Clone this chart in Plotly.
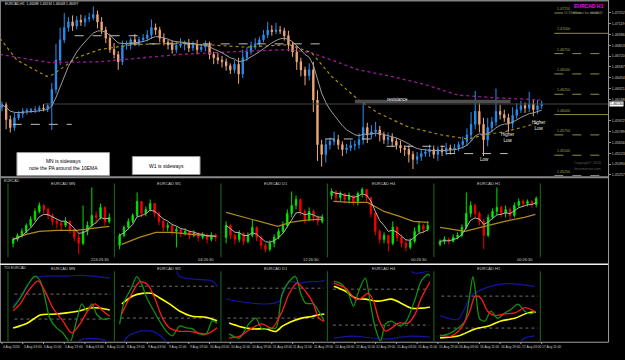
import pandas as pd
import plotly.graph_objects as go

W, H = 625, 360
FONT = "Liberation Sans"

# ---------------- main chart: EURCAD H1 ----------------
main_open0 = 1.4609
main_close = [
    1.4612, 1.4594, 1.4584, 1.4596, 1.4601, 1.4604, 1.4605, 1.4606, 1.4606, 1.4608,
    1.4607, 1.4611, 1.4631, 1.4667, 1.4692, 1.4707, 1.4714, 1.4709, 1.4716, 1.4714,
    1.4718, 1.4719, 1.4723, 1.4714, 1.4704, 1.4694, 1.4680, 1.4674, 1.4665, 1.4685,
    1.4686, 1.4692, 1.4689, 1.4692, 1.4694, 1.4698, 1.4707, 1.4704, 1.4694, 1.4689,
    1.4686, 1.4680, 1.4685, 1.4687, 1.4688, 1.4682, 1.4686, 1.4680, 1.4683, 1.4686,
    1.4674, 1.4670, 1.4667, 1.4665, 1.4660, 1.4655, 1.4662, 1.4650, 1.4670, 1.4677,
    1.4685, 1.4687, 1.4692, 1.4698, 1.4704, 1.4702, 1.4704, 1.4703, 1.4697, 1.4686,
    1.4677, 1.4665, 1.4655, 1.4648, 1.4655, 1.4618, 1.4563, 1.4551, 1.4563, 1.4567,
    1.4569, 1.4563, 1.4557, 1.4559, 1.4562, 1.4563, 1.4569, 1.4584, 1.4575, 1.4579,
    1.4581, 1.4575, 1.4569, 1.4572, 1.4567, 1.4562, 1.4559, 1.4557, 1.4551, 1.4545,
    1.4548, 1.4552, 1.4554, 1.4557, 1.4551, 1.4557, 1.4554, 1.4559, 1.4557, 1.4559,
    1.4563, 1.4567, 1.4575, 1.4588, 1.4604, 1.4588, 1.4569, 1.4584, 1.4591, 1.4604,
    1.4600, 1.4596, 1.4589, 1.4599, 1.4606, 1.4611, 1.4608, 1.4613, 1.4606, 1.4611,
    1.4613,
]
main_up_pips = [
    4, 3, 5, 6, 3, 4, 3, 2, 4, 3,
    5, 3, 8, 20, 15, 18, 6, 8, 5, 7,
    4, 6, 10, 5, 6, 4, 5, 8, 4, 6,
    5, 3, 7, 4, 5, 6, 10, 5, 4, 6,
    3, 5, 4, 7, 3, 5, 4, 6, 3, 5,
    4, 3, 6, 5, 4, 3, 5, 8, 10, 6,
    5, 7, 4, 6, 10, 6, 9, 5, 4, 6,
    3, 7, 5, 4, 8, 10, 12, 6, 8, 5,
    10, 6, 4, 5, 6, 5, 8, 30, 6, 8,
    10, 5, 4, 6, 5, 4, 6, 3, 5, 4,
    6, 5, 4, 6, 5, 4, 5, 6, 4, 5,
    4, 6, 8, 15, 25, 10, 8, 12, 6, 28,
    8, 6, 5, 10, 8, 6, 4, 15, 5, 7,
    4,
]
main_dn_pips = [
    5, 12, 6, 4, 3, 5, 4, 3, 4, 3,
    3, 4, 30, 5, 6, 4, 5, 6, 4, 5,
    6, 4, 3, 8, 5, 6, 4, 5, 10, 4,
    5, 6, 4, 5, 3, 4, 5, 6, 5, 4,
    6, 5, 4, 3, 8, 5, 4, 6, 3, 5,
    6, 8, 5, 7, 6, 5, 4, 12, 5, 4,
    3, 5, 4, 3, 4, 5, 3, 4, 6, 8,
    6, 10, 8, 12, 6, 15, 20, 15, 10, 6,
    5, 6, 8, 5, 4, 6, 5, 6, 10, 5,
    6, 8, 5, 6, 7, 5, 6, 8, 10, 12,
    6, 5, 4, 6, 5, 8, 5, 4, 6, 5,
    4, 5, 6, 8, 6, 10, 20, 8, 6, 5,
    6, 5, 10, 6, 5, 4, 6, 5, 8, 5,
    4,
]
ema_span = 10

olive_idx = [-0.5, 3.6, 10.8, 12.2, 18, 23.5, 31.4, 42.7, 58.8, 69.1, 74.6, 79.4, 85.9,
             90.6, 97.8, 105.8, 112.2, 116.3, 121.1, 125.9, 129.7]
olive_val = [1.4694, 1.4667, 1.4647, 1.4649, 1.4670, 1.4680, 1.4686, 1.4688, 1.4683, 1.4686,
             1.4676, 1.4647, 1.4618, 1.4602, 1.4585, 1.4575, 1.4570, 1.4575, 1.4579, 1.4585, 1.4591]
purple_idx = [-0.5, 11.5, 23.5, 35.5, 42.7, 54.7, 69.1, 74.6, 80.3, 85.9, 93.8, 101.9,
              109.8, 117.7, 129.7]
purple_val = [1.4674, 1.4664, 1.4665, 1.4671, 1.4674, 1.4677, 1.4680, 1.4676, 1.4665, 1.4655,
              1.4647, 1.4637, 1.4624, 1.4621, 1.4618]

dash_start = [2.6, 17.5, 31.0, 78.0, 92.6, 107.0]
dash_end = [16.8, 33.0, 77.0, 89.5, 106.7, 121.8]
dash_price = [1.4588, 1.4697, 1.4687, 1.4570, 1.4561, 1.4552]

resist_price = 1.4616
resist_start = 85
resist_end = 122.5
bid_price = 1.4613
bid_line_start = 10

round_levels = [1.4725, 1.4700, 1.4675, 1.4650, 1.4625, 1.4600, 1.4575, 1.4550, 1.4525]
price_ticks = [1.47385, 1.47252, 1.47119, 1.46986, 1.46853, 1.46720, 1.46587, 1.46454,
               1.46321, 1.46188, 1.45922, 1.45789, 1.45656, 1.45523, 1.45390, 1.45257]

x_labels = ["4 Aug 2016", "5 Aug 03:00", "5 Aug 11:00", "5 Aug 19:00", "8 Aug 03:00",
            "8 Aug 11:00", "8 Aug 19:00", "9 Aug 03:00", "9 Aug 11:00", "9 Aug 19:00",
            "10 Aug 03:00", "10 Aug 11:00", "10 Aug 19:00", "11 Aug 03:00", "11 Aug 11:00",
            "11 Aug 19:00", "12 Aug 03:00", "12 Aug 11:00", "12 Aug 19:00", "15 Aug 03:00",
            "15 Aug 11:00", "15 Aug 19:00", "16 Aug 03:00", "16 Aug 11:00", "16 Aug 19:00",
            "17 Aug 03:00", "17 Aug 11:00"]
x_label_step = 5

# ---------------- mini charts (relative levels) ----------------
mini_names = ["EURCAD MN", "EURCAD W1", "EURCAD D1", "EURCAD H4", "EURCAD H1"]
mini_timers = ["224:26:30", "04:26:30", "12:26:30", "00:26:30", "00:26:30"]

mn_open0 = 18
mn_close = [22, 26, 30, 36, 42, 50, 56, 52, 46, 40, 38, 36, 40, 32, 24, 18, 30, 36, 46, 44, 54, 40, 44]
mn_high = [24, 28, 33, 38, 45, 53, 59, 57, 54, 48, 42, 40, 44, 41, 33, 28, 56, 40, 74, 50, 58, 55, 48]
mn_low = [14, 20, 24, 28, 34, 40, 48, 48, 42, 36, 33, 31, 34, 28, 20, 7, 16, 26, 34, 38, 42, 36, 38]
mn_olive_x = [0, 3, 6, 10, 14.5, 17.5, 20, 22]
mn_olive = [22, 27, 30, 31, 31, 33, 34, 35]

w1_open0 = 16
w1_close = [26, 34, 40, 46, 60, 48, 52, 58, 48, 40, 34, 36, 30, 32, 28, 30, 26, 28, 24, 26, 22, 26, 24]
w1_high = [28, 36, 43, 48, 69, 60, 55, 62, 57, 50, 42, 39, 36, 35, 33, 33, 31, 31, 29, 29, 28, 29, 28]
w1_low = [12, 24, 32, 38, 44, 44, 45, 50, 44, 36, 30, 30, 26, 14, 24, 26, 22, 24, 20, 22, 18, 20, 20]
w1_olive_x = [0.5, 4.5, 8.3, 12, 16.5, 22]
w1_olive = [17, 24, 29, 29, 27, 25]

d1_open0 = 24
d1_close = [36, 26, 22, 28, 20, 26, 34, 24, 16, 12, 18, 24, 30, 36, 48, 56, 62, 50, 42, 50, 44, 40, 44]
d1_high = [40, 37, 28, 31, 29, 29, 42, 35, 26, 18, 21, 27, 33, 40, 52, 70, 66, 63, 52, 54, 52, 46, 47]
d1_low = [18, 22, 17, 19, 16, 18, 24, 20, 12, 9, 10, 14, 22, 28, 34, 44, 52, 46, 38, 40, 40, 36, 38]
d1_olive_x = [0, 4.4, 8.9, 11.8, 14.7, 17.8, 20.7, 22]
d1_olive = [49, 44, 39, 35, 39, 41, 42, 42]

h4_open0 = 66
h4_close = [70, 64, 68, 62, 66, 60, 68, 72, 64, 48, 30, 22, 26, 18, 34, 24, 18, 14, 20, 30, 36, 32, 36]
h4_high = [73, 71, 70, 68, 69, 66, 70, 74, 72, 64, 50, 32, 29, 26, 40, 35, 27, 22, 23, 34, 40, 37, 40]
h4_low = [62, 60, 60, 58, 58, 56, 56, 64, 60, 44, 26, 18, 18, 10, 16, 20, 14, 10, 12, 18, 28, 28, 30]
h4_olive_x = [0.4, 4.4, 8.2, 12, 15.6, 18.7, 22.2]
h4_olive = [60, 59, 59, 50, 45, 40, 39]

h1_open0 = 17
h1_close = [20, 22, 20, 24, 26, 34, 48, 56, 48, 40, 26, 44, 50, 54, 48, 52, 46, 56, 60, 58, 60, 57, 63]
h1_high = [22, 25, 24, 27, 29, 37, 69, 60, 58, 50, 42, 47, 53, 74, 56, 56, 54, 59, 63, 62, 62, 61, 65]
h1_low = [15, 17, 17, 19, 22, 24, 32, 44, 44, 36, 12, 24, 42, 46, 44, 44, 42, 44, 54, 54, 55, 54, 54]
h1_olive_x = [0, 5.7, 10.2, 14.8, 19.3, 21.8]
h1_olive = [34, 30, 35, 40, 44, 47]

# ---------------- TDI panels ----------------
tdi_levels = [68, 32]

mn_grn_x = [0, 1.6, 3.2, 5.0, 6.2, 7.3, 8.4, 10.0, 11.4, 13.0, 14.6, 15.7, 16.9, 18.0, 19.1, 20.5, 22.1]
mn_grn = [48, 62, 80, 94, 87, 62, 33, 19, 12, -1, 32, 54, 44, 54, 39, 32, 33]
mn_red_x = [0, 1.6, 3.4, 5.7, 7.3, 9.1, 11.4, 13.4, 15.3, 17.1, 18.7, 20.5, 22.1]
mn_red = [44, 54, 72, 87, 72, 48, 29, 12, 25, 44, 54, 44, 36]
mn_yel_x = [0, 3.2, 6.2, 9.1, 12.3, 15.3, 17.5, 19.8, 22.1]
mn_yel = [19, 26, 38, 39, 41, 44, 48, 48, 45]
mn_bup_x = [0, 2.3, 4.6, 7.7, 12.3, 15.3, 18.2, 22.1]
mn_bup = [51, 69, 91, 94, 94, 95, 94, 91]
mn_bdn_x = [0, 6, 13, 15.9, 19.8, 22.1]
mn_bdn = [-15, -20, -8, 3, 3, -2]

w1_grn_x = [0, 1.1, 2.7, 3.9, 5.0, 6.2, 7.5, 9.1, 10.7, 12.1, 13.7, 15.3, 16.6, 18.2, 19.8, 21.2, 22.3]
w1_grn = [25, 51, 66, 79, 71, 55, 43, 29, 17, 12, 23, 21, 20, 14, 14, 29, 26]
w1_red_x = [0.5, 2.3, 4.6, 6.4, 8.0, 9.8, 11.4, 13.7, 15.9, 18.2, 20.0, 22.3]
w1_red = [37, 55, 73, 70, 55, 32, 21, 17, 17, 15, 14, 21]
w1_yel_x = [0.5, 3.0, 5.2, 7.3, 9.1, 11.4, 13.7, 16.6, 19.8, 22.3]
w1_yel = [48, 57, 60, 60, 55, 48, 40, 34, 33, 29]
w1_bup_x = [0, 8, 12.7, 13.7, 17.1, 21.2, 22.3]
w1_bup = [100, 98, 88, 79, 76, 74, 68]
w1_bdn_x = [0, 1.6, 4.6, 7.5, 9.8, 12.5, 22.3]
w1_bdn = [-5, 10, 17, 17, 10, -5, -10]

d1_grn_x = [0.7, 3.0, 5.2, 6.8, 8.2, 9.8, 11.4, 12.8, 14.4, 15.9, 17.1, 18.2, 20.0, 21.2, 22.5]
d1_grn = [13, 8, 25, 32, 19, 20, 20, 61, 76, 82, 61, 50, 49, 40, 28]
d1_red_x = [0.7, 3.0, 5.9, 8.2, 10.5, 12.8, 14.4, 16.2, 18.2, 20.0, 21.2, 22.5]
d1_red = [8, 10, 20, 25, 20, 40, 61, 74, 64, 49, 32, 28]
d1_yel_x = [0.7, 3.0, 5.9, 9.1, 11.4, 12.8, 15.0, 17.3, 19.6, 21.2, 22.6]
d1_yel = [26, 22, 19, 19, 16, 22, 28, 32, 34, 36, 37]
d1_bup_x = [0, 3.0, 5.9, 9.1, 12.1, 14.4, 16.6, 18.9, 21.2, 22.6]
d1_bup = [55, 52, 50, 49, 52, 76, 74, 76, 76, 77]
d1_bdn_x = [0, 22.6]
d1_bdn = [-5, -5]

h4_grn_x = [0.5, 2.3, 3.9, 5.0, 6.2, 7.7, 8.9, 10.0, 11.2, 12.3, 13.7, 15.7, 17.1, 19.1, 20.5, 22.1, 22.6]
h4_grn = [76, 73, 63, 51, 66, 79, 53, 29, 16, 33, 36, 31, 36, 58, 76, 83, 81]
h4_red_x = [0.5, 3.2, 5.5, 6.8, 8.4, 9.6, 10.7, 12.3, 13.7, 15.3, 17.5, 19.1, 20.5, 22.6]
h4_red = [74, 69, 58, 59, 64, 56, 39, 26, 29, 34, 34, 43, 59, 76]
h4_yel_x = [0.5, 3.2, 5.5, 7.7, 10.7, 13.7, 15.9, 18.2, 20.5, 22.6]
h4_yel = [71, 66, 59, 58, 56, 58, 54, 49, 49, 50]
h4_bup_x = [0, 14, 15.9, 19.1, 22.1, 22.6]
h4_bup = [100, 96, 93, 84, 86, 86]
h4_bdn_x = [0.5, 4.6, 12.3, 18.2, 22.6]
h4_bdn = [19, 21, 18, 21, 20]

h1_grn_x = [0, 2.3, 4.1, 5.7, 6.8, 7.5, 8.2, 9.1, 10.3, 11.6, 13.2, 14.8, 16.2, 17.8, 19.4, 20.7, 21.9]
h1_grn = [23, 26, 32, 40, 70, 90, 70, 42, 40, 51, 43, 49, 53, 59, 51, 48, 51]
h1_red_x = [0, 2.5, 4.8, 6.8, 8.0, 9.3, 10.9, 12.5, 14.8, 17.1, 19.4, 21.6]
h1_red = [24, 23, 32, 51, 68, 66, 51, 46, 48, 49, 55, 51]
h1_yel_x = [0, 4.1, 8.0, 10.9, 13.9, 17.1, 20.0, 21.9]
h1_yel = [21, 23, 31, 34, 40, 43, 49, 50]
h1_bup_x = [0, 4.1, 7.1, 10.3, 14.8, 21.6]
h1_bup = [46, 42, 68, 77, 82, 79]
h1_bdn_x = [0, 10, 17, 19.4, 21.6]
h1_bdn = [5, 3, 10, 21, 23]

# =====================================================================
def px(x):
    return x / W


def py(y):
    return 1 - y / H


fig = go.Figure()
layout = dict(
    width=W, height=H, margin=dict(l=0, r=0, t=0, b=0),
    paper_bgcolor="black", plot_bgcolor="black", showlegend=False,
    font=dict(family=FONT, color="#C8C8C8", size=5),
    boxgap=0.55,
)

# ---- main panel ----
opens = [main_open0] + main_close[:-1]
highs = [max(o, c) + u * 1e-4 for o, c, u in zip(opens, main_close, main_up_pips)]
lows = [min(o, c) - d * 1e-4 for o, c, d in zip(opens, main_close, main_dn_pips)]
idx = list(range(len(main_close)))
ema = pd.Series(main_close).ewm(span=ema_span, adjust=False).mean()

fig.add_trace(go.Scatter(x=purple_idx, y=purple_val, mode="lines",
                         line=dict(color="#9A1C9A", width=1.3, dash="dot"), hoverinfo="skip"))
fig.add_trace(go.Scatter(x=olive_idx, y=olive_val, mode="lines",
                         line=dict(color="#A88A10", width=1.2, dash="dot"), hoverinfo="skip"))
fig.add_trace(go.Scatter(x=[bid_line_start, 200], y=[bid_price, bid_price], mode="lines",
                         line=dict(color="#444444", width=1), hoverinfo="skip"))
fig.add_trace(go.Scatter(x=[resist_start, resist_end], y=[resist_price, resist_price], mode="lines",
                         line=dict(color="#4E4E4E", width=3.5), hoverinfo="skip"))
fig.add_trace(go.Candlestick(
    x=idx, open=opens, high=highs, low=lows, close=main_close,
    increasing=dict(line=dict(color="#2A8FF0", width=1), fillcolor="#2A8FF0"),
    decreasing=dict(line=dict(color="#F0A878", width=1), fillcolor="#F0A878"),
    whiskerwidth=0, hoverinfo="skip", xaxis="x", yaxis="y"))
fig.add_trace(go.Scatter(x=idx, y=ema, mode="lines", line=dict(color="#9C9C9C", width=1),
                         hoverinfo="skip"))
for s, e, p in zip(dash_start, dash_end, dash_price):
    fig.add_trace(go.Scatter(x=[s, e], y=[p, p], mode="lines",
                             line=dict(color="#C0C0C0", width=1, dash="dash"), hoverinfo="skip"))

n_main_view = 146.0
layout["xaxis"] = dict(domain=[0, px(611)], range=[-0.48, n_main_view], visible=False,
                       rangeslider=dict(visible=False), fixedrange=True)
layout["yaxis"] = dict(domain=[py(177), py(3)], range=[1.45238, 1.47373], side="right",
                       tickvals=price_ticks, ticktext=[f"{v:.5f}" for v in price_ticks],
                       tickfont=dict(size=3.6, color="#C8C8C8"), showgrid=False,
                       zeroline=False, ticks="outside", ticklen=2, tickcolor="#909090",
                       showline=False, fixedrange=True)

shapes = []
annotations = []


def text(x, y, s, size=4, color="#C8C8C8", xanchor="left", yanchor="middle",
         xref="paper", yref="paper", **kw):
    annotations.append(dict(x=x, y=y, text=s, showarrow=False, xref=xref, yref=yref,
                            xanchor=xanchor, yanchor=yanchor,
                            font=dict(size=size, color=color, family=FONT), **kw))


# round-number levels at right
for lv in round_levels:
    solid = abs(round(lv * 100) - lv * 100) < 1e-6
    shapes.append(dict(type="line", xref="paper", yref="y", x0=px(557), x1=px(611), y0=lv, y1=lv,
                       line=dict(color="#8C8C46", width=1, dash="solid" if solid else "dash")))
    text(px(558), lv, f"{lv:.5f}", size=3.6, color="#A0A05A", yanchor="bottom", yref="y")

# current price box
text(px(612), bid_price, f"{bid_price:.5f}", size=3.6, color="black", bgcolor="white",
     yref="y", borderpad=0)

# main chart labels
text(95.2, 1.4618, "resistance", size=4.5, color="#E8E8E8", xanchor="center",
     xref="x", yref="y")
text(116.3, 1.4545, "Low", size=4.5, color="#E8E8E8", xanchor="center", xref="x", yref="y")
text(122.0, 1.4572, "Higher<br>Low", size=4.5, color="#E8E8E8", xanchor="center",
     xref="x", yref="y")
text(129.3, 1.4586, "Higher<br>Low", size=4.5, color="#E8E8E8", xanchor="center",
     xref="x", yref="y")

# header
text(px(3), py(4), "EURCAD,H1  1.46088 1.46134 1.46048 1.46097", size=3.4, color="#E0E0E0")
text(px(608), py(6), "<b>EURCAD H1</b>", size=5, color="#FF00FF", xanchor="right")
text(px(608), py(13), "15:33 H1 next bar 00:26:30", size=3.2, color="#8A8A8A",
     xanchor="right")
text(px(590), py(163), "Copyright© 2016", size=3.6, color="#5A5A5A", xanchor="center")
text(px(590), py(169), "forexmentor.com", size=3.6, color="#5A5A5A", xanchor="center")

# note boxes
shapes.append(dict(type="rect", xref="paper", yref="paper", x0=px(17), x1=px(110),
                   y0=py(176), y1=py(153), fillcolor="white", line=dict(color="#9A9A9A", width=1)))
text(px(63.5), py(164.5), "MN is sideways<br>note the PA around the 10EMA", size=5,
     color="black", xanchor="center")
shapes.append(dict(type="rect", xref="paper", yref="paper", x0=px(133), x1=px(201),
                   y0=py(175), y1=py(157), fillcolor="white", line=dict(color="#9A9A9A", width=1)))
text(px(167), py(166), "W1 is sideways", size=5, color="black", xanchor="center")

# ---- mini candle panels ----
mini_x0 = [13, 120, 227, 333, 442]
mini_sets = [
    (mn_open0, mn_close, mn_high, mn_low, mn_olive_x, mn_olive),
    (w1_open0, w1_close, w1_high, w1_low, w1_olive_x, w1_olive),
    (d1_open0, d1_close, d1_high, d1_low, d1_olive_x, d1_olive),
    (h4_open0, h4_close, h4_high, h4_low, h4_olive_x, h4_olive),
    (h1_open0, h1_close, h1_high, h1_low, h1_olive_x, h1_olive),
]
tdi_sets = [
    (mn_grn_x, mn_grn, mn_red_x, mn_red, mn_yel_x, mn_yel, mn_bup_x, mn_bup, mn_bdn_x, mn_bdn),
    (w1_grn_x, w1_grn, w1_red_x, w1_red, w1_yel_x, w1_yel, w1_bup_x, w1_bup, w1_bdn_x, w1_bdn),
    (d1_grn_x, d1_grn, d1_red_x, d1_red, d1_yel_x, d1_yel, d1_bup_x, d1_bup, d1_bdn_x, d1_bdn),
    (h4_grn_x, h4_grn, h4_red_x, h4_red, h4_yel_x, h4_yel, h4_bup_x, h4_bup, h4_bdn_x, h4_bdn),
    (h1_grn_x, h1_grn, h1_red_x, h1_red, h1_yel_x, h1_yel, h1_bup_x, h1_bup, h1_bdn_x, h1_bdn),
]
tdi_ranges = [[0.3, 101], [6, 85], [4.4, 88.4], [16, 86], [17.4, 96]]
mini_centers = [63, 170, 277, 386, 491]
timer_centers = [101, 207, 312, 421, 528]

for k in range(5):
    x0 = mini_x0[k]
    dom = [px(x0 - 2), px(x0 + 99)]
    ca, ta = k + 2, k + 7
    o0, cl, hi, lo, ox, ov = mini_sets[k]
    op = [o0] + cl[:-1]
    hi2 = [max(a, b, c) for a, b, c in zip(hi, op, cl)]
    lo2 = [min(a, b, c) for a, b, c in zip(lo, op, cl)]
    bx = list(range(len(cl)))
    fig.add_trace(go.Candlestick(
        x=bx, open=op, high=hi2, low=lo2, close=cl,
        increasing=dict(line=dict(color="#00E000", width=1), fillcolor="#00FF00"),
        decreasing=dict(line=dict(color="#F00000", width=1), fillcolor="#FF0000"),
        whiskerwidth=0, hoverinfo="skip", xaxis=f"x{ca}", yaxis=f"y{ca}"))
    fig.add_trace(go.Scatter(x=ox, y=ov, mode="lines", line=dict(color="#B08A1A", width=1.2),
                             xaxis=f"x{ca}", yaxis=f"y{ca}", hoverinfo="skip"))
    mema = pd.Series(cl).ewm(span=5, adjust=False).mean()
    fig.add_trace(go.Scatter(x=bx, y=mema, mode="lines", line=dict(color="#B4B4B4", width=1),
                             xaxis=f"x{ca}", yaxis=f"y{ca}", hoverinfo="skip"))
    layout[f"xaxis{ca}"] = dict(domain=dom, range=[-0.5, 22.5], visible=False, anchor=f"y{ca}",
                                rangeslider=dict(visible=False), fixedrange=True)
    layout[f"yaxis{ca}"] = dict(domain=[py(258), py(182)], range=[4, 80], visible=False,
                                anchor=f"x{ca}", fixedrange=True)

    gx, g, rx, r, yx, yv, bux, bu, bdx, bd = tdi_sets[k]
    for lvl in tdi_levels:
        fig.add_trace(go.Scatter(x=[0.3, 22.4], y=[lvl, lvl], mode="lines",
                                 line=dict(color="#6E6E6E", width=1, dash="dot"),
                                 xaxis=f"x{ta}", yaxis=f"y{ta}", hoverinfo="skip"))
    for xs, ys, col, wd in [(bux, bu, "#1414A0", 1.2), (bdx, bd, "#1414A0", 1.2),
                            (yx, yv, "#FFFF00", 1.6), (gx, g, "#109010", 1.3),
                            (rx, r, "#FF1A1A", 1.3)]:
        fig.add_trace(go.Scatter(x=xs, y=ys, mode="lines",
                                 line=dict(color=col, width=wd, shape="spline", smoothing=0.8),
                                 xaxis=f"x{ta}", yaxis=f"y{ta}", hoverinfo="skip"))
    layout[f"xaxis{ta}"] = dict(domain=dom, range=[-0.5, 22.5], visible=False, anchor=f"y{ta}",
                                rangeslider=dict(visible=False), fixedrange=True)
    layout[f"yaxis{ta}"] = dict(domain=[py(342), py(272)], range=tdi_ranges[k], visible=False,
                                anchor=f"x{ta}", fixedrange=True)

    text(px(mini_centers[k]), py(184), mini_names[k], size=4, color="#C8C8C8", xanchor="center")
    text(px(mini_centers[k]), py(269.5), mini_names[k], size=4, color="#C8C8C8", xanchor="center")
    text(px(timer_centers[k]), py(260), mini_timers[k], size=4, color="#C8C8C8", xanchor="center")

for gxp in [8, 115, 222, 329, 436, 543]:
    shapes.append(dict(type="line", xref="paper", yref="paper", x0=px(gxp), x1=px(gxp),
                       y0=py(258), y1=py(184), line=dict(color="#165C16", width=1.2)))
    shapes.append(dict(type="line", xref="paper", yref="paper", x0=px(gxp), x1=px(gxp),
                       y0=py(342), y1=py(272), line=dict(color="#165C16", width=1.2)))

text(px(2), py(181.5), "EURCAD", size=3.6, color="#C8C8C8")
text(px(2), py(268.5), "TDI EURCAD", size=3.6, color="#C8C8C8")

shapes += [
    dict(type="line", xref="paper", yref="paper", x0=0, x1=px(611), y0=py(0.7), y1=py(0.7),
         line=dict(color="#808080", width=1.4)),
    dict(type="line", xref="paper", yref="paper", x0=px(0.5), x1=px(0.5), y0=py(343), y1=py(0),
         line=dict(color="#808080", width=1)),
    dict(type="line", xref="paper", yref="paper", x0=0, x1=px(611), y0=py(177.8), y1=py(177.8),
         line=dict(color="#8A8A8A", width=2)),
    dict(type="line", xref="paper", yref="paper", x0=0, x1=px(611), y0=py(265), y1=py(265),
         line=dict(color="#F0F0F0", width=1.5)),
    dict(type="line", xref="paper", yref="paper", x0=0, x1=px(611.5), y0=py(343.2), y1=py(343.2),
         line=dict(color="#A0A0A0", width=1)),
    dict(type="line", xref="paper", yref="paper", x0=px(611.5), x1=px(611.5), y0=py(343.2),
         y1=py(0), line=dict(color="#A0A0A0", width=1)),
]

for j, lab in enumerate(x_labels):
    xi = j * x_label_step
    text(xi - 0.3, py(347.5), lab, size=3.3, color="#C8C8C8", xref="x")
    shapes.append(dict(type="line", xref="x", yref="paper", x0=xi, x1=xi, y0=py(343.2),
                       y1=py(345), line=dict(color="#A0A0A0", width=1)))

layout["shapes"] = shapes
layout["annotations"] = annotations
fig.update_layout(**layout)
fig.write_html("out.html")
